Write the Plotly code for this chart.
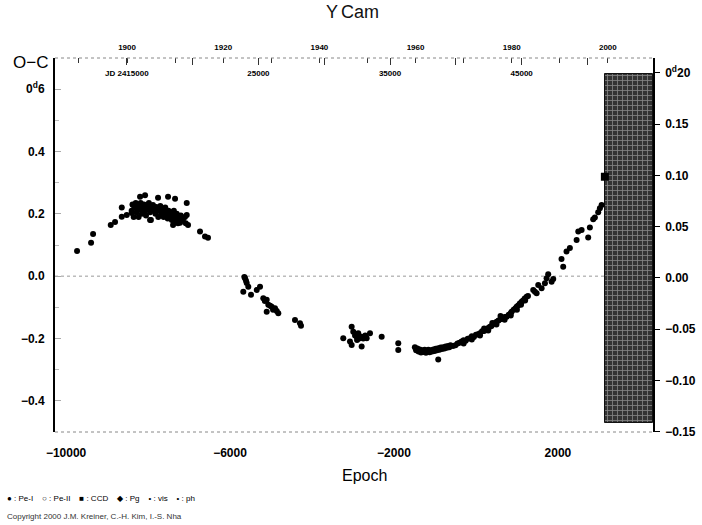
import plotly.graph_objects as go

# ---------------- data ----------------
hump_epoch = [-9732, -9390, -9341, -8910, -8805, -8641, -8641, -8520, -8397, -8366, -8195, -8073,
              -7756, -7512, -7341, -7056, -7056, -7024, -7390, -7219, -7951, -6732, -6610, -6537]
hump_oc = [0.081, 0.107, 0.135, 0.164, 0.174, 0.191, 0.220, 0.196, 0.203, 0.228, 0.255, 0.260,
           0.252, 0.255, 0.248, 0.235, 0.196, 0.164, 0.164, 0.171, 0.180, 0.143, 0.127, 0.123]

cluster_epoch = [-8400, -8380, -8350, -8320, -8300, -8280, -8250, -8230, -8200, -8180, -8150, -8130,
                 -8100, -8080, -8050, -8020, -8000, -7980, -7950, -7930, -7900, -7880, -7850, -7820,
                 -7800, -7780, -7750, -7720, -7700, -7680, -7650, -7620, -7600, -7580, -7550, -7520,
                 -7500, -7470, -7450, -7420, -7400, -7370, -7350, -7320, -7300, -7270, -7250, -7200,
                 -7150, -7100, -7080]
cluster_oc = [0.210, 0.230, 0.190, 0.220, 0.235, 0.205, 0.225, 0.190, 0.215, 0.235, 0.200, 0.220,
              0.230, 0.210, 0.195, 0.225, 0.215, 0.235, 0.205, 0.180, 0.220, 0.228, 0.210, 0.200,
              0.222, 0.215, 0.190, 0.210, 0.225, 0.200, 0.215, 0.190, 0.208, 0.220, 0.200, 0.185,
              0.210, 0.195, 0.205, 0.180, 0.195, 0.210, 0.175, 0.190, 0.200, 0.170, 0.185, 0.195,
              0.180, 0.190, 0.170]

mid_epoch = [-5650, -5634, -5610, -5593, -5554, -5676, -5488, -5349, -5268, -5188, -5150, -5105,
             -5066, -5105, -5020, -4983, -4950, -4902, -4860, -4822, -4415, -4293, -4268]
mid_oc = [-0.003, -0.007, -0.015, -0.022, -0.034, -0.050, -0.060, -0.044, -0.034, -0.071, -0.080,
          -0.076, -0.092, -0.114, -0.095, -0.098, -0.108, -0.103, -0.112, -0.119, -0.141, -0.151, -0.159]

low_epoch = [-3237, -3073, -3032, -3032, -2993, -2950, -2910, -2900, -2871, -2850, -2788, -2788,
             -2750, -2700, -2666, -2585, -2300, -1895, -1895]
low_oc = [-0.199, -0.210, -0.162, -0.221, -0.178, -0.190, -0.194, -0.205, -0.183, -0.200, -0.194,
          -0.226, -0.200, -0.190, -0.199, -0.183, -0.194, -0.215, -0.237]

min_epoch = [-1490, -1460, -1430, -1400, -1370, -1340, -1310, -1280, -1250, -1220, -1190, -1160,
             -1130, -1100, -1070, -1040, -1010, -980, -950, -920, -890, -860, -830, -800, -770,
             -740, -710, -680, -650, -620, -920]
min_oc = [-0.228, -0.238, -0.232, -0.242, -0.235, -0.245, -0.238, -0.243, -0.236, -0.246, -0.240,
          -0.236, -0.244, -0.238, -0.242, -0.235, -0.240, -0.233, -0.238, -0.231, -0.236, -0.229,
          -0.234, -0.228, -0.232, -0.226, -0.230, -0.224, -0.228, -0.222, -0.267]

rise_epoch = [-560, -500, -450, -400, -349, -300, -250, -200, -146, -100, -50, 0, 50, 98, 150, 200,
              250, 300, 341, 380, 420, 470, 505, 550, 600, 650, 700, 749, 800, 850, 871, 920, 960,
              993, 1030, 1070, 1115, 1150, 1190, 1237, 1270,
              -300, -100, 100, 300, 500, 700, 850, 1000, 1100, 1200, 600, 400, 200]
rise_oc = [-0.224, -0.222, -0.216, -0.214, -0.210, -0.206, -0.207, -0.201, -0.199, -0.193, -0.195,
           -0.188, -0.186, -0.183, -0.177, -0.176, -0.170, -0.166, -0.162, -0.160, -0.153, -0.150,
           -0.146, -0.142, -0.138, -0.136, -0.131, -0.130, -0.124, -0.118, -0.114, -0.108, -0.104,
           -0.098, -0.094, -0.088, -0.082, -0.078, -0.072, -0.066, -0.064,
           -0.216, -0.203, -0.190, -0.174, -0.155, -0.140, -0.126, -0.108, -0.092, -0.078, -0.128,
           -0.150, -0.168]

top_epoch = [1398, 1439, 1480, 1520, 1602, 1683, 1724, 1763, 1846, 1886, 2088, 2129, 2210, 2292,
             2456, 2497, 2578, 2739, 2780, 2861, 2902, 2983, 3024, 3066]
top_oc = [-0.044, -0.050, -0.055, -0.028, -0.039, -0.023, -0.007, 0.006, -0.018, -0.009, 0.055,
          0.030, 0.079, 0.090, 0.116, 0.143, 0.148, 0.124, 0.156, 0.183, 0.188, 0.205, 0.218, 0.228]

ccd_epoch = [3146]
ccd_oc = [0.319]

# shaded (hatched) region: epoch start/end, O-C bottom/top
hatch_epoch = [3150, 4317]
hatch_oc = [-0.47, 0.65]

# axes
x_range = [-10270, 4320]
x_ticks = [-10000, -6000, -2000, 2000]
x_text = ["\u221210000", "\u22126000", "\u22122000", "2000"]
y_range = [-0.5, 0.7]
y_ticks = [-0.4, -0.2, 0.0, 0.2, 0.4, 0.6]
y_text = ["\u22120.4", "\u22120.2", "0.0", "0.2", "0.4", "0<sup>d</sup>6"]
y2_range = [-0.1502, 0.2145]
y2_ticks = [-0.15, -0.10, -0.05, 0.0, 0.05, 0.10, 0.15, 0.20]
y2_text = ["\u22120.15", "\u22120.10", "\u22120.05", "0.00", "0.05", "0.10", "0.15", "0<sup>d</sup>20"]

# top axes: calendar years and Julian dates
years = [1890, 1900, 1910, 1920, 1930, 1940, 1950, 1960, 1970, 1980, 1990, 2000]
year_labels = ["", "1900", "", "1920", "", "1940", "", "1960", "", "1980", "", "2000"]
jds = [2415000, 2420000, 2425000, 2430000, 2435000, 2440000, 2445000, 2450000]
jd_labels = ["JD 2415000", "", "25000", "", "35000", "", "45000", ""]
EPOCH_1900 = -8512.0
EPOCHS_PER_YEAR = 117.3

def year_to_epoch(y):
    return EPOCH_1900 + (y - 1900) * EPOCHS_PER_YEAR

def jd_to_epoch(jd):
    return year_to_epoch(1900 + (jd - 2415020) / 365.25)

def bold(labels):
    return ["<b>%s</b>" % t if t else "" for t in labels]

# ---------------- figure ----------------
FONT = "Liberation Sans, Arial, sans-serif"
fig = go.Figure()

fig.add_trace(go.Bar(
    x=[(hatch_epoch[0] + hatch_epoch[1]) / 2], y=[hatch_oc[1] - hatch_oc[0]], base=[hatch_oc[0]],
    width=[hatch_epoch[1] - hatch_epoch[0]],
    marker=dict(color="#333333", line=dict(color="#111", width=1),
                pattern=dict(shape="+", fgcolor="#d8d8d8", bgcolor="#333333", size=5, solidity=0.3)),
    showlegend=False, hoverinfo="skip"))

all_epoch = hump_epoch + cluster_epoch + mid_epoch + low_epoch + min_epoch + rise_epoch + top_epoch
all_oc = hump_oc + cluster_oc + mid_oc + low_oc + min_oc + rise_oc + top_oc
fig.add_trace(go.Scatter(x=all_epoch, y=all_oc, mode="markers",
                         marker=dict(color="black", size=6, line=dict(width=0)), showlegend=False))
fig.add_trace(go.Scatter(x=ccd_epoch, y=ccd_oc, mode="markers",
                         marker=dict(color="black", symbol="square", size=8), showlegend=False))

# invisible helpers so the secondary axes are drawn
fig.add_trace(go.Scatter(x=[x_range[0]], y=[0], xaxis="x2", yaxis="y2", mode="markers",
                         marker=dict(opacity=0), showlegend=False, hoverinfo="skip"))
fig.add_trace(go.Scatter(x=[x_range[0]], y=[0], xaxis="x3", yaxis="y", mode="markers",
                         marker=dict(opacity=0), showlegend=False, hoverinfo="skip"))

tickfont = dict(family=FONT, size=12, color="black")
fig.update_layout(
    width=702, height=525,
    margin=dict(l=55, r=49, t=58, b=93, autoexpand=False),
    paper_bgcolor="white", plot_bgcolor="white",
    bargap=0,
    title=dict(text="Y&#8202;&#8202;Cam", x=0.502, xref="container", y=0.977, yanchor="middle",
               font=dict(family=FONT, size=18, color="#111")),
    xaxis=dict(range=x_range, tickvals=x_ticks, ticktext=bold(x_text), automargin=False,
               showgrid=False, zeroline=False, showline=False, ticks="",
               ticklabelstandoff=12, tickfont=dict(family=FONT, size=12, color="black")),
    xaxis2=dict(range=x_range, overlaying="x", side="top", anchor="y", automargin=False,
                tickvals=[year_to_epoch(y) for y in years], ticktext=bold(year_labels),
                ticks="inside", ticklen=5, tickcolor="#333", showgrid=False, zeroline=False,
                showline=False, ticklabelstandoff=5, tickfont=dict(family=FONT, size=8, color="black")),
    xaxis3=dict(range=x_range, overlaying="x", side="top", anchor="y", automargin=False,
                tickvals=[jd_to_epoch(j) for j in jds], ticktext=bold(jd_labels),
                ticks="inside", ticklen=7, tickcolor="#333", ticklabelposition="inside",
                ticklabelstandoff=4,
                showgrid=False, zeroline=False, showline=False,
                tickfont=dict(family=FONT, size=8, color="black")),
    yaxis=dict(range=y_range, tickvals=y_ticks, ticktext=bold(y_text), showgrid=False, zeroline=False,
               automargin=False,
               showline=True, linecolor="black", linewidth=2, ticks="inside", ticklen=6,
               tickcolor="#aaa", ticklabelstandoff=6,
               minor=dict(dtick=0.1, ticks="inside", ticklen=4, tickcolor="#bbb"),
               tickfont=tickfont),
    yaxis2=dict(range=y2_range, overlaying="y", side="right", tickvals=y2_ticks, ticktext=bold(y2_text),
                automargin=False,
                showgrid=False, zeroline=False, showline=True, linecolor="black", linewidth=1.5,
                ticks="outside", ticklen=5, tickcolor="black", ticklabelstandoff=3,
                tickfont=dict(family=FONT, size=12, color="black")),
    shapes=[
        dict(type="line", xref="paper", yref="paper", x0=0, x1=1, y0=1, y1=1,
             line=dict(color="#888", width=1, dash="dot")),
        dict(type="line", xref="paper", yref="paper", x0=0, x1=1, y0=0, y1=0,
             line=dict(color="#888", width=1, dash="dot")),
        dict(type="line", xref="paper", yref="y", x0=0, x1=1, y0=0, y1=0,
             line=dict(color="#999", width=1, dash="dot"), layer="below"),
    ],
    annotations=[
        dict(text="O\u2212C", xref="paper", yref="paper", x=-0.008, y=0.989, xanchor="right",
             yanchor="middle", showarrow=False, font=dict(family=FONT, size=17, color="black")),
        dict(text="Epoch", xref="paper", yref="paper", x=0.518, y=-0.1176, xanchor="center",
             yanchor="middle", showarrow=False, font=dict(family=FONT, size=16, color="black")),
        dict(text="\u25cf : Pe-I &nbsp;&nbsp; \u25cb : Pe-II &nbsp;&nbsp; \u25a0 : CCD &nbsp;&nbsp; "
                  "\u25c6 : Pg &nbsp;&nbsp; \u2022 : vis &nbsp;&nbsp; \u2022 : ph",
             xref="paper", yref="paper", x=-0.083, y=-0.179, xanchor="left", yanchor="middle",
             showarrow=False, font=dict(family=FONT, size=8, color="black")),
        dict(text="Copyright 2000 J.M. Kreiner, C.-H. Kim, I.-S. Nha",
             xref="paper", yref="paper", x=-0.083, y=-0.227, xanchor="left", yanchor="middle",
             showarrow=False, font=dict(family=FONT, size=8, color="#333")),
    ],
)

fig.write_html("out.html", config={"displayModeBar": False},
               post_script="document.body.style.margin='0px';")
